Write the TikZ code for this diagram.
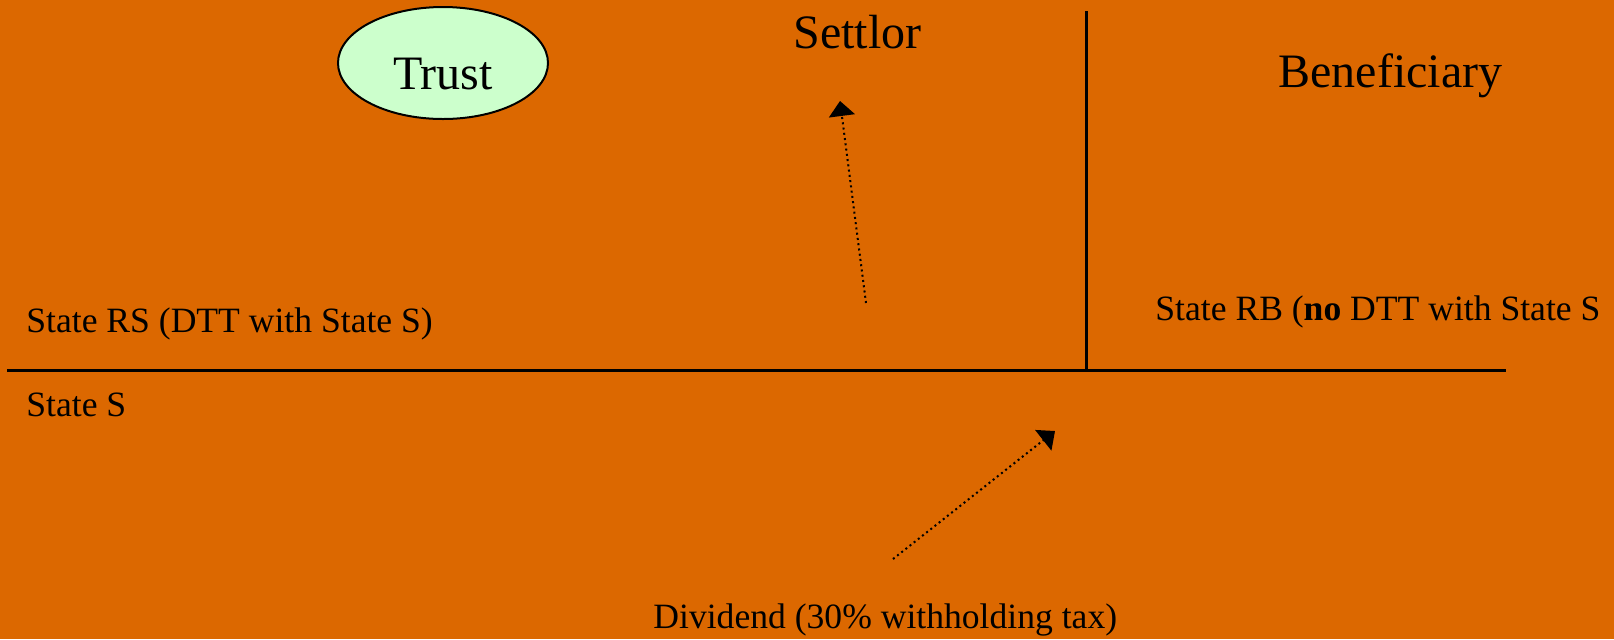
\documentclass[tikz,border=0pt]{standalone}
\usepackage{fontspec}
\setmainfont{Liberation Serif}
\usepackage{tikz}
\usetikzlibrary{shapes.geometric}
\usetikzlibrary{arrows.meta}
\definecolor{bgorange}{RGB}{220,104,0}
\definecolor{trustgreen}{RGB}{204,255,204}

\begin{document}
\begin{tikzpicture}[x=0.5pt,y=-0.5pt,
    bigtext/.style={inner sep=0pt,anchor=base west,font=\fontsize{24}{29}\selectfont},
    smalltext/.style={inner sep=0pt,anchor=base west,font=\fontsize{17.8}{21}\selectfont},
    trustbox/.style={ellipse,draw,line width=1pt,fill=trustgreen,inner sep=0pt,
        minimum width=105pt,minimum height=56pt,text height=26pt,text depth=0pt,
        font=\fontsize{24}{29}\selectfont},
    divider/.style={line width=1.5pt},
    flow/.style={line width=1pt,dash pattern=on 1pt off 1.65pt,-{Triangle[length=7.5pt,width=13pt]}}]
    % --- BACKGROUND ---
    \fill[bgorange] (0,0) rectangle (1614,639);
    \useasboundingbox (0,0) rectangle (1614,639);

    % --- BORDERS ---
    \draw[divider] (7,370) -- (1506,370);
    \draw[divider] (1086,11) -- (1086,370);

    % --- PARTIES ---
	\node[trustbox] (trust) at (443,63) {Trust};
	\node[bigtext] (settlor) at (793,48) {Settlor};
	\node[bigtext] (beneficiary) at (1278,87) {Beneficiary};

    % --- STATES ---
	\node[smalltext] (staters) at (26,332) {State RS (DTT with State S)};
	\node[smalltext] (staterb) at (1155,320) {State RB (\textbf{no} DTT with State S};
	\node[smalltext] (states) at (26,416) {State S};
	\node[smalltext] (dividend) at (653,628) {Dividend (30\% withholding tax)};

    % --- FLOWS ---
	\coordinate (upfrom) at (866,303);
	\coordinate (upto) at (840,101);
	\coordinate (divfrom) at (893,559);
	\coordinate (divto) at (1055,431);
	\draw[flow] (upfrom) -- (upto);
	\draw[flow] (divfrom) -- (divto);
\end{tikzpicture}
\end{document}
